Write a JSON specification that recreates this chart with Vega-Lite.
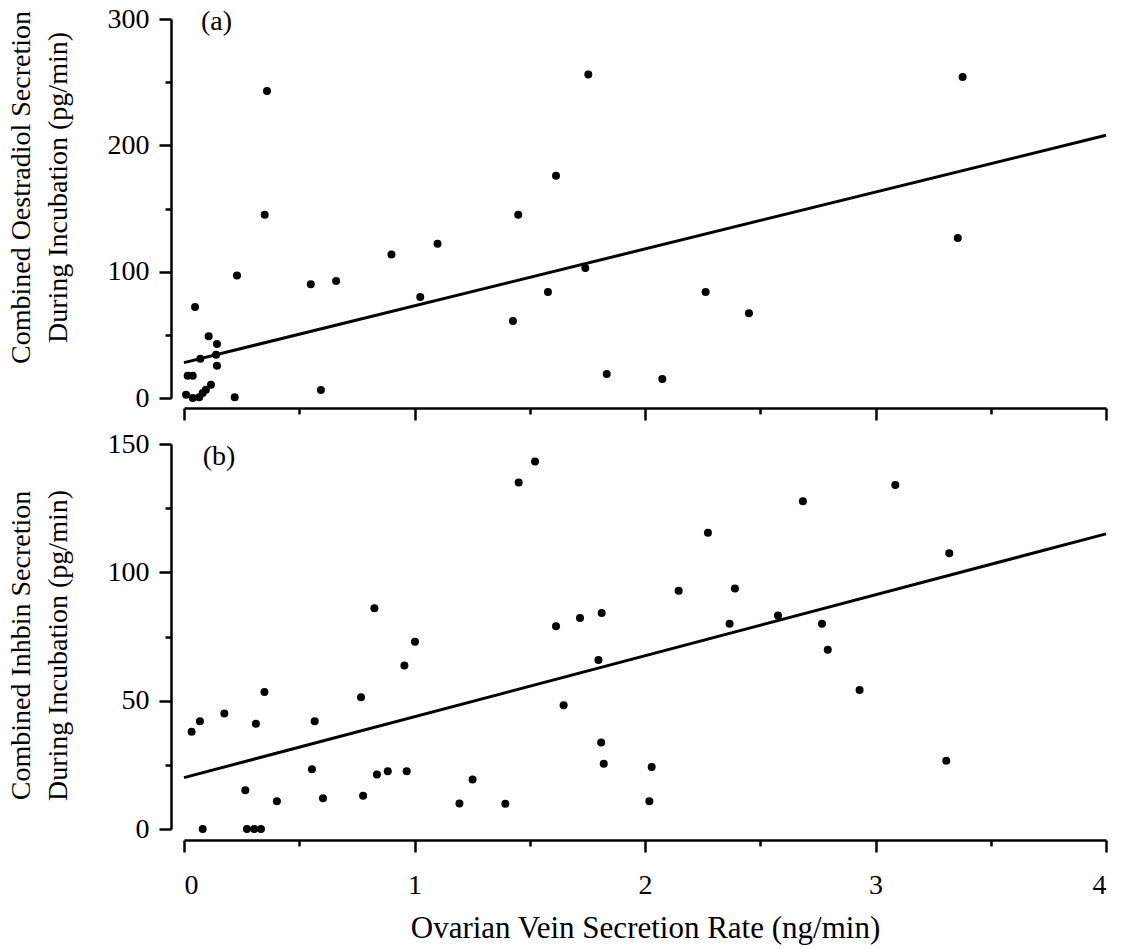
{
  "$schema": "https://vega.github.io/schema/vega-lite/v6.json",
  "background": "white",
  "padding": {"left": 7, "top": 5, "right": 15, "bottom": 5},
  "bounds": "flush",
  "spacing": 46,
  "config": {
    "font": "Liberation Serif",
    "view": {"stroke": null},
    "axis": {
      "grid": false,
      "domainColor": "black", "domainWidth": 2.5,
      "tickColor": "black", "tickWidth": 2.5,
      "labelColor": "black", "titleColor": "black",
      "labelFont": "Liberation Serif", "titleFont": "Liberation Serif",
      "labelFontSize": 28, "titleFontSize": 28, "titleFontWeight": "normal"
    }
  },
  "datasets": {
    "a": [
      {"rate": 0.36, "oestradiol": 243}, {"rate": 0.35, "oestradiol": 145}, {"rate": 0.23, "oestradiol": 97},
      {"rate": 0.048, "oestradiol": 72}, {"rate": 0.55, "oestradiol": 90}, {"rate": 0.66, "oestradiol": 92.6},
      {"rate": 0.90, "oestradiol": 113.5}, {"rate": 1.10, "oestradiol": 122}, {"rate": 1.025, "oestradiol": 80},
      {"rate": 0.594, "oestradiol": 6.3}, {"rate": 0.22, "oestradiol": 0.5}, {"rate": 0.107, "oestradiol": 48.8},
      {"rate": 0.143, "oestradiol": 42.8}, {"rate": 0.071, "oestradiol": 31}, {"rate": 0.139, "oestradiol": 34.3},
      {"rate": 0.143, "oestradiol": 25.6}, {"rate": 0.016, "oestradiol": 17.7}, {"rate": 0.038, "oestradiol": 17.7},
      {"rate": 0.009, "oestradiol": 2.6}, {"rate": 0.038, "oestradiol": 0}, {"rate": 0.066, "oestradiol": 0.5},
      {"rate": 0.081, "oestradiol": 4}, {"rate": 0.095, "oestradiol": 6.6}, {"rate": 0.117, "oestradiol": 10.5},
      {"rate": 1.754, "oestradiol": 256}, {"rate": 1.614, "oestradiol": 176}, {"rate": 1.45, "oestradiol": 145},
      {"rate": 1.741, "oestradiol": 103}, {"rate": 1.579, "oestradiol": 84}, {"rate": 1.427, "oestradiol": 61},
      {"rate": 2.263, "oestradiol": 84}, {"rate": 2.451, "oestradiol": 67}, {"rate": 1.834, "oestradiol": 19},
      {"rate": 2.075, "oestradiol": 15}, {"rate": 3.378, "oestradiol": 254}, {"rate": 3.357, "oestradiol": 126.7}
    ],
    "b": [
      {"rate": 0.826, "inhibin": 86}, {"rate": 1.002, "inhibin": 73}, {"rate": 0.956, "inhibin": 63.7},
      {"rate": 0.768, "inhibin": 51.3}, {"rate": 0.349, "inhibin": 53.4}, {"rate": 0.175, "inhibin": 45},
      {"rate": 0.069, "inhibin": 42}, {"rate": 0.033, "inhibin": 37.9}, {"rate": 0.312, "inhibin": 41},
      {"rate": 0.567, "inhibin": 42}, {"rate": 0.555, "inhibin": 23.3}, {"rate": 0.837, "inhibin": 21.2},
      {"rate": 0.884, "inhibin": 22.5}, {"rate": 0.966, "inhibin": 22.5}, {"rate": 0.266, "inhibin": 15.1},
      {"rate": 0.403, "inhibin": 10.8}, {"rate": 0.603, "inhibin": 12}, {"rate": 0.777, "inhibin": 13},
      {"rate": 1.195, "inhibin": 9.9}, {"rate": 1.252, "inhibin": 19.3}, {"rate": 0.081, "inhibin": 0},
      {"rate": 0.273, "inhibin": 0}, {"rate": 0.305, "inhibin": 0}, {"rate": 0.334, "inhibin": 0},
      {"rate": 1.523, "inhibin": 143.2}, {"rate": 1.452, "inhibin": 135}, {"rate": 2.273, "inhibin": 115.4},
      {"rate": 2.146, "inhibin": 92.8}, {"rate": 2.39, "inhibin": 93.7}, {"rate": 1.614, "inhibin": 79},
      {"rate": 1.718, "inhibin": 82.2}, {"rate": 1.812, "inhibin": 84.2}, {"rate": 1.798, "inhibin": 65.8},
      {"rate": 2.367, "inhibin": 80}, {"rate": 2.577, "inhibin": 83.2}, {"rate": 1.647, "inhibin": 48.2},
      {"rate": 1.81, "inhibin": 33.7}, {"rate": 1.821, "inhibin": 25.4}, {"rate": 2.029, "inhibin": 24.2},
      {"rate": 2.019, "inhibin": 10.8}, {"rate": 1.394, "inhibin": 9.8}, {"rate": 2.685, "inhibin": 127.7},
      {"rate": 3.086, "inhibin": 134}, {"rate": 3.32, "inhibin": 107.4}, {"rate": 2.768, "inhibin": 80},
      {"rate": 2.793, "inhibin": 69.8}, {"rate": 2.931, "inhibin": 54.2}, {"rate": 3.307, "inhibin": 26.6}
    ],
    "fitA": [{"rate": 0, "oestradiol": 28}, {"rate": 4, "oestradiol": 208}],
    "fitB": [{"rate": 0, "inhibin": 20}, {"rate": 4, "inhibin": 115}]
  },
  "vconcat": [
    {
      "width": 922,
      "height": 379,
      "resolve": {"axis": {"x": "independent", "y": "independent"}},
      "layer": [
        {
          "data": {"name": "a"},
          "mark": {"type": "point", "filled": true, "color": "black", "size": 64, "opacity": 1},
          "encoding": {
            "x": {"field": "rate", "type": "quantitative", "scale": {"domain": [0, 4], "nice": false},
              "axis": {"orient": "bottom", "values": [0, 1, 2, 3, 4], "labels": false, "title": null, "offset": 10, "tickSize": 12}},
            "y": {"field": "oestradiol", "type": "quantitative", "scale": {"domain": [0, 300], "nice": false},
              "axis": {"orient": "left", "values": [0, 100, 200, 300], "offset": 13, "tickSize": 12, "labelPadding": 10,
                "title": ["Combined Oestradiol Secretion", "During Incubation (pg/min)"], "titleLineHeight": 37, "titlePadding": 35, "titleY": 168}}
          }
        },
        {
          "data": {"name": "fitA"},
          "mark": {"type": "line", "color": "black", "strokeWidth": 3},
          "encoding": {
            "x": {"field": "rate", "type": "quantitative",
              "axis": {"orient": "bottom", "values": [0.5, 1.5, 2.5, 3.5], "labels": false, "domain": false, "title": null, "offset": 10, "tickSize": 6}},
            "y": {"field": "oestradiol", "type": "quantitative",
              "axis": {"orient": "left", "values": [50, 150, 250], "labels": false, "domain": false, "title": null, "offset": 13, "tickSize": 6}}
          }
        },
        {
          "data": {"values": [{"rate": 0.141, "oestradiol": 298, "label": "(a)"}]},
          "mark": {"type": "text", "fontSize": 28, "font": "Liberation Serif", "color": "black", "align": "center", "baseline": "middle"},
          "encoding": {
            "x": {"field": "rate", "type": "quantitative", "axis": null},
            "y": {"field": "oestradiol", "type": "quantitative", "axis": null},
            "text": {"field": "label"}
          }
        }
      ]
    },
    {
      "width": 922,
      "height": 385,
      "resolve": {"axis": {"x": "independent", "y": "independent"}},
      "layer": [
        {
          "data": {"name": "b"},
          "mark": {"type": "point", "filled": true, "color": "black", "size": 64, "opacity": 1},
          "encoding": {
            "x": {"field": "rate", "type": "quantitative", "scale": {"domain": [0, 4], "nice": false},
              "axis": {"orient": "bottom", "values": [0, 1, 2, 3, 4], "offset": 11, "tickSize": 12, "labelPadding": 19,
                "title": "Ovarian Vein Secretion Rate (ng/min)", "titleFontSize": 31, "titlePadding": 14}},
            "y": {"field": "inhibin", "type": "quantitative", "scale": {"domain": [0, 150], "nice": false},
              "axis": {"orient": "left", "values": [0, 50, 100, 150], "offset": 13, "tickSize": 12, "labelPadding": 10,
                "title": ["Combined Inhbin Secretion", "During Incubation (pg/min)"], "titleLineHeight": 37, "titlePadding": 35, "titleY": 201}}
          }
        },
        {
          "data": {"name": "fitB"},
          "mark": {"type": "line", "color": "black", "strokeWidth": 3},
          "encoding": {
            "x": {"field": "rate", "type": "quantitative",
              "axis": {"orient": "bottom", "values": [0.5, 1.5, 2.5, 3.5], "labels": false, "domain": false, "title": null, "offset": 11, "tickSize": 6}},
            "y": {"field": "inhibin", "type": "quantitative",
              "axis": {"orient": "left", "values": [25, 75, 125], "labels": false, "domain": false, "title": null, "offset": 13, "tickSize": 6}}
          }
        },
        {
          "data": {"values": [{"rate": 0.152, "inhibin": 145, "label": "(b)"}]},
          "mark": {"type": "text", "fontSize": 28, "font": "Liberation Serif", "color": "black", "align": "center", "baseline": "middle"},
          "encoding": {
            "x": {"field": "rate", "type": "quantitative", "axis": null},
            "y": {"field": "inhibin", "type": "quantitative", "axis": null},
            "text": {"field": "label"}
          }
        }
      ]
    }
  ]
}
